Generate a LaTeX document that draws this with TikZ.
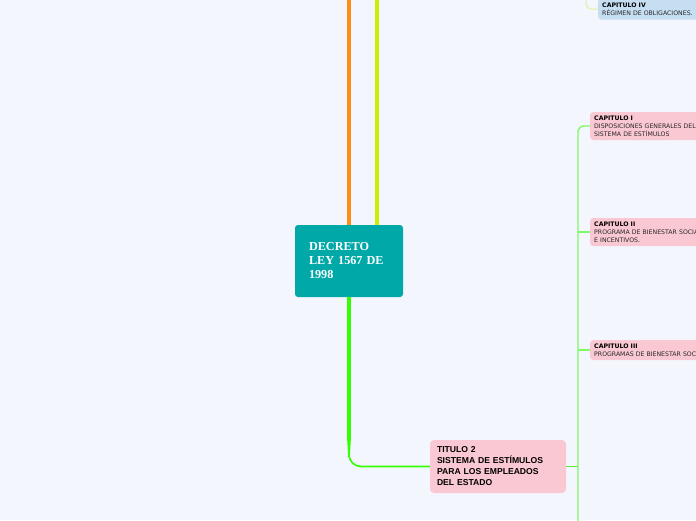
\documentclass[tikz,border=0pt]{standalone}
\usepackage{fontspec}
\setmainfont{Liberation Serif}
\newfontfamily\dejavu{DejaVu Sans}
\newfontfamily\libsans{Liberation Sans}
\definecolor{bgc}{RGB}{244,246,253}
\definecolor{teal}{RGB}{0,168,168}
\definecolor{pinkc}{RGB}{250,200,211}
\definecolor{bluec}{RGB}{198,222,242}
\definecolor{orangec}{RGB}{255,140,20}
\definecolor{limec}{RGB}{204,238,0}
\definecolor{greenc}{RGB}{51,255,0}
\definecolor{spinec}{RGB}{128,250,100}
\definecolor{paleyel}{RGB}{222,240,160}
\definecolor{txtc}{RGB}{40,40,40}
\tikzset{
  central/.style={fill=teal, rounded corners=3pt, text=white, align=left,
    font=\fontsize{12.2}{14}\selectfont\bfseries, text width=80pt,
    inner xsep=14pt, minimum height=72pt},
  titulo/.style={fill=pinkc, rounded corners=4pt, text=black, align=left,
    font=\libsans\fontsize{8.6}{11}\selectfont\bfseries, text width=122pt,
    inner xsep=7pt, minimum height=53pt},
  capbox/.style={rounded corners=3pt, text=txtc, align=left, anchor=west,
    font=\dejavu\fontsize{6.2}{7.8}\selectfont, text width=112pt,
    inner xsep=4pt, inner ysep=2pt},
  capi/.style={capbox, fill=pinkc},
  capiv/.style={capbox, fill=bluec},
  mainline/.style={line width=3.6pt},
  thinline/.style={line width=1.4pt, color=spinec},
}
\newcommand{\captitle}[1]{{\bfseries\color{black}#1}}
\begin{document}
\begin{tikzpicture}[x=1pt,y=-1pt]
\useasboundingbox (0,0) rectangle (696,520);
\fill[bgc] (0,0) rectangle (696,520);
\clip (0,0) rectangle (696,520);
% nodes
\node[central] (root) at (349,261) {DECRETO\\LEY 1567 DE\\1998};
\node[titulo] (t2) at (498,466.5) {TITULO 2\\SISTEMA DE ESTÍMULOS\\PARA LOS EMPLEADOS\\DEL ESTADO};
\node[capi, minimum height=28pt] (c1) at (590,126) {\captitle{CAPITULO I}\\DISPOSICIONES GENERALES DEL\\SISTEMA DE ESTÍMULOS};
\node[capi, minimum height=28pt] (c2) at (590,232) {\captitle{CAPITULO II}\\PROGRAMA DE BIENESTAR SOCIAL\\E INCENTIVOS.};
\node[capi, minimum height=20pt] (c3) at (590,350) {\captitle{CAPITULO III}\\PROGRAMAS DE BIENESTAR SOCIAL};
\node[capiv, minimum height=21pt] (c4) at (598,9) {\captitle{CAPITULO IV}\\RÉGIMEN DE OBLIGACIONES.};
% free ends
\coordinate (otop) at (349,-2);
\coordinate (ytop) at (377,-2);
\coordinate (spbot) at (578,522);
\coordinate (c4top) at (586,-2);
% connectors
\draw[mainline, orangec] (root.north) -- (otop);
\draw[mainline, limec] (root.north -| ytop) -- (ytop);
\draw[greenc, line width=1.6pt, rounded corners=12pt] (root.south) |- (t2.west);
\fill[greenc] ([xshift=-1.8pt]root.south) -- ([xshift=1.8pt]root.south) -- (350.8,440) -- (349.8,457) -- (348.2,457) -- (347.2,440) -- cycle;
\draw[line width=1.6pt, color={rgb,255:red,90;green,240;blue,40}] (t2.east) -- (t2.east -| spbot);
\draw[thinline, rounded corners=6pt] (spbot) |- (c1.west);
\draw[thinline] (c2.west -| spbot) -- (c2.west);
\draw[thinline] (c3.west -| spbot) -- (c3.west);
\draw[paleyel, line width=1pt, rounded corners=5pt] (c4top) |- (c4.west);
\end{tikzpicture}
\end{document}
